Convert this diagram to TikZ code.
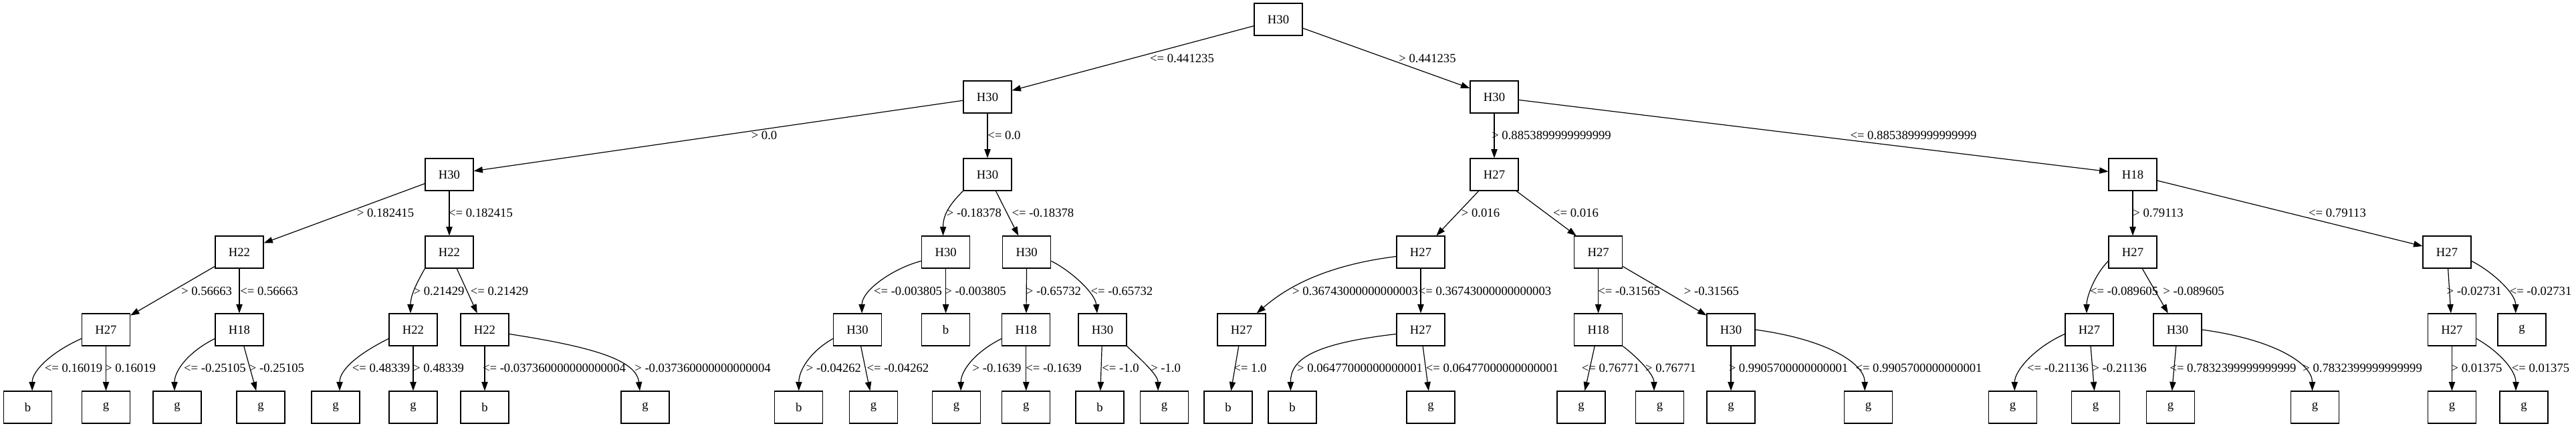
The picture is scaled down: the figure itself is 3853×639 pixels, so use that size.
\documentclass[tikz,border=0pt]{standalone}
\usepackage{fontspec}
\setmainfont{Liberation Serif}
\usepackage{tikz}
\usetikzlibrary{arrows.meta}
\tikzset{
  splitbox/.style={
    draw=black,
    line width=0.9pt,
    minimum width=54pt,
    minimum height=36pt,
    inner sep=0pt,
    font=\fontsize{14}{16}\selectfont
  },
  leafbox/.style={splitbox},
  branch/.style={-{Triangle[length=10pt,width=7pt]},line width=0.9pt,draw=black},
  cut/.style={inner sep=0pt,font=\fontsize{14}{16}\selectfont}
}
\begin{document}
\begin{tikzpicture}[x=0.75pt,y=-0.75pt]
  \path[use as bounding box,fill=white] (0,0) rectangle (3853,639);
  % split nodes
  \node[splitbox] (root) at (1912,29) {H30};
  \node[splitbox] (l) at (1477,145) {H30};
  \node[splitbox] (r) at (2235,145) {H30};
  \node[splitbox] (ll) at (672,261) {H30};
  \node[splitbox] (lr) at (1477,261) {H30};
  \node[splitbox] (rl) at (2235,261) {H27};
  \node[splitbox] (rr) at (3190,261) {H18};
  \node[splitbox] (lll) at (358,377) {H22};
  \node[splitbox] (llr) at (672,377) {H22};
  \node[splitbox] (lrl) at (1414.6,377) {H30};
  \node[splitbox] (lrr) at (1535.7,377) {H30};
  \node[splitbox] (rll) at (2125,377) {H27};
  \node[splitbox] (rlr) at (2390.6,377) {H27};
  \node[splitbox] (rrl) at (3190,377) {H27};
  \node[splitbox] (rrr) at (3660,377) {H27};
  \node[splitbox] (llll) at (158.5,493) {H27};
  \node[splitbox] (lllr) at (358,493) {H18};
  \node[splitbox] (llrl) at (618,493) {H22};
  \node[splitbox] (llrr) at (725,493) {H22};
  \node[splitbox] (lrll) at (1282.5,493) {H30};
  \node[leafbox] (lrlr) at (1414.6,493) {b};
  \node[splitbox] (lrrl) at (1534.8,493) {H18};
  \node[splitbox] (lrrr) at (1649,493) {H30};
  \node[splitbox] (rlll) at (1857,493) {H27};
  \node[splitbox] (rllr) at (2125,493) {H27};
  \node[splitbox] (rlrl) at (2390.6,493) {H18};
  \node[splitbox] (rlrr) at (2589,493) {H30};
  \node[splitbox] (rrll) at (3125,493) {H27};
  \node[splitbox] (rrlr) at (3257,493) {H30};
  \node[splitbox] (rrrl) at (3667.4,493) {H27};
  \node[leafbox] (rrrr) at (3772,493) {g};
  % leaves
  \node[leafbox] (lllll) at (41.5,609) {b};
  \node[leafbox] (llllr) at (158.5,609) {g};
  \node[leafbox] (lllrl) at (265,609) {g};
  \node[leafbox] (lllrr) at (390,609) {g};
  \node[leafbox] (llrll) at (502,609) {g};
  \node[leafbox] (llrlr) at (618,609) {g};
  \node[leafbox] (llrrl) at (725,609) {b};
  \node[leafbox] (llrrr) at (965,609) {g};
  \node[leafbox] (lrlll) at (1194.8,609) {b};
  \node[leafbox] (lrllr) at (1306.4,609) {g};
  \node[leafbox] (lrrll) at (1430.5,609) {g};
  \node[leafbox] (lrrlr) at (1534.8,609) {g};
  \node[leafbox] (lrrrl) at (1645,609) {b};
  \node[leafbox] (lrrrr) at (1741.4,609) {g};
  \node[leafbox] (rllll) at (1837,609) {b};
  \node[leafbox] (rllrl) at (1933,609) {b};
  \node[leafbox] (rllrr) at (2140,609) {g};
  \node[leafbox] (rlrll) at (2365,609) {g};
  \node[leafbox] (rlrlr) at (2482.5,609) {g};
  \node[leafbox] (rlrrl) at (2589,609) {g};
  \node[leafbox] (rlrrr) at (2794.5,609) {g};
  \node[leafbox] (rrlll) at (3010.6,609) {g};
  \node[leafbox] (rrllr) at (3134.6,609) {g};
  \node[leafbox] (rrlrl) at (3246.5,609) {g};
  \node[leafbox] (rrlrr) at (3462.5,609) {g};
  \node[leafbox] (rrrll) at (3667.4,609) {g};
  \node[leafbox] (rrrlr) at (3775,609) {g};
  % branches
  \draw[branch] (root) -- (l) node[cut] at (1768,87) {<= 0.441235};
  \draw[branch] (root) -- (r) node[cut] at (2135,87) {> 0.441235};
  \draw[branch] (l) -- (ll) node[cut] at (1143,202) {> 0.0};
  \draw[branch] (l) -- (lr) node[cut] at (1502,202) {<= 0.0};
  \draw[branch] (r) -- (rl) node[cut] at (2320.5,202) {> 0.8853899999999999};
  \draw[branch] (r) -- (rr) node[cut] at (2862,202) {<= 0.8853899999999999};
  \draw[branch] (ll) -- (lll) node[cut] at (576.5,318) {> 0.182415};
  \draw[branch] (ll) -- (llr) node[cut] at (719,318) {<= 0.182415};
  \draw[branch] (lr.south west) .. controls +(-22,22) and +(0,-30) .. ([xshift=-3pt]lrl.north) node[cut] at (1457,318) {> -0.18378};
  \draw[branch] (lr) -- (lrr) node[cut] at (1560,318) {<= -0.18378};
  \draw[branch] (rl) -- (rll) node[cut] at (2214.5,318) {> 0.016};
  \draw[branch] (rl) -- (rlr) node[cut] at (2357,318) {<= 0.016};
  \draw[branch] (rr) -- (rrl) node[cut] at (3228,318) {> 0.79113};
  \draw[branch] (rr) -- (rrr) node[cut] at (3496,318) {<= 0.79113};
  \draw[branch] (lll) -- (llll) node[cut] at (309,435) {> 0.56663};
  \draw[branch] (lll) -- (lllr) node[cut] at (402.5,435) {<= 0.56663};
  \draw[branch] (llr.south west) .. controls +(-10,18) and +(0,-28) .. ([xshift=-3pt]llrl.north) node[cut] at (656.5,435) {> 0.21429};
  \draw[branch] (llr) -- (llrr) node[cut] at (747,435) {<= 0.21429};
  \draw[branch] (lrl.200) .. controls +(-40,10) and +(0,-35) .. ([xshift=5pt]lrll.north) node[cut] at (1358,435) {<= -0.003805};
  \draw[branch] (lrl) -- (lrlr) node[cut] at (1459,435) {> -0.003805};
  \draw[branch] (lrr) -- (lrrl) node[cut] at (1576,435) {> -0.65732};
  \draw[branch] (lrr.340) .. controls +(30,15) and +(-3,-30) .. ([xshift=-6pt]lrrr.north) node[cut] at (1678,435) {<= -0.65732};
  \draw[branch] (rll.190) .. controls +(-120,15) and +(35,-30) .. ([xshift=17pt]rlll.north) node[cut] at (2027,435) {> 0.36743000000000003};
  \draw[branch] (rll) -- (rllr) node[cut] at (2221,435) {<= 0.36743000000000003};
  \draw[branch] (rlr) -- (rlrl) node[cut] at (2436.6,435) {<= -0.31565};
  \draw[branch] (rlr) -- (rlrr) node[cut] at (2560,435) {> -0.31565};
  \draw[branch] (rrl.200) .. controls +(-20,20) and +(0,-25) .. ([xshift=-3pt]rrll.north) node[cut] at (3177,435) {<= -0.089605};
  \draw[branch] (rrl) -- (rrlr) node[cut] at (3281,435) {> -0.089605};
  \draw[branch] (rrr) -- (rrrl) node[cut] at (3700.7,435) {> -0.02731};
  \draw[branch] (rrr.340) .. controls +(30,15) and +(0,-30) .. ([xshift=-7pt]rrrr.north) node[cut] at (3800,435) {<= -0.02731};
  \draw[branch] (llll.200) .. controls +(-45,20) and +(0,-30) .. ([xshift=5pt]lllll.north) node[cut] at (110,550) {<= 0.16019};
  \draw[branch] (llll) -- (llllr) node[cut] at (195,550) {> 0.16019};
  \draw[branch] (lllr.200) .. controls +(-40,20) and +(0,-30) .. ([xshift=-3pt]lllrl.north) node[cut] at (321.4,550) {<= -0.25105};
  \draw[branch] (lllr) -- (lllrr) node[cut] at (414,550) {> -0.25105};
  \draw[branch] (llrl.200) .. controls +(-50,25) and +(0,-30) .. ([xshift=4.5pt]llrll.north) node[cut] at (570,550) {<= 0.48339};
  \draw[branch] (llrl) -- (llrlr) node[cut] at (656,550) {> 0.48339};
  \draw[branch] (llrr) -- (llrrl) node[cut] at (829,550) {<= -0.037360000000000004};
  \draw[branch] (llrr.350) .. controls +(130,20) and +(-5,-45) .. ([xshift=-6pt]llrrr.north) node[cut] at (1051,550) {> -0.037360000000000004};
  \draw[branch] (lrll.200) .. controls +(-35,20) and +(0,-30) .. (lrlll.north) node[cut] at (1247,550) {> -0.04262};
  \draw[branch] (lrll) -- (lrllr) node[cut] at (1343,550) {<= -0.04262};
  \draw[branch] (lrrl.200) .. controls +(-40,20) and +(0,-30) .. ([xshift=5pt]lrrll.north) node[cut] at (1491,550) {> -0.1639};
  \draw[branch] (lrrl) -- (lrrlr) node[cut] at (1576,550) {<= -0.1639};
  \draw[branch] (lrrr) -- (lrrrl) node[cut] at (1676,550) {<= -1.0};
  \draw[branch] (lrrr.south east) .. controls +(15,15) and +(0,-25) .. ([xshift=-7pt]lrrrr.north) node[cut] at (1743.6,550) {> -1.0};
  \draw[branch] (rlll) -- (rllll) node[cut] at (1870,550) {<= 1.0};
  \draw[branch] (rllr.190) .. controls +(-130,15) and +(0,-45) .. ([xshift=-2pt]rllrl.north) node[cut] at (2034,550) {> 0.06477000000000001};
  \draw[branch] (rllr) -- (rllrr) node[cut] at (2232,550) {<= 0.06477000000000001};
  \draw[branch] (rlrl) -- (rlrll) node[cut] at (2409,550) {<= 0.76771};
  \draw[branch] (rlrl.south east) .. controls +(20,15) and +(0,-25) .. ([xshift=-6.4pt]rlrlr.north) node[cut] at (2499,550) {> 0.76771};
  \draw[branch] (rlrr) -- (rlrrl) node[cut] at (2675,550) {> 0.9905700000000001};
  \draw[branch] (rlrr.east) .. controls +(110,15) and +(0,-40) .. ([xshift=-4pt]rlrrr.north) node[cut] at (2870,550) {<= 0.9905700000000001};
  \draw[branch] (rrll.190) .. controls +(-45,20) and +(0,-30) .. ([xshift=2pt]rrlll.north) node[cut] at (3078,550) {<= -0.21136};
  \draw[branch] (rrll) -- (rrllr) node[cut] at (3170,550) {> -0.21136};
  \draw[branch] (rrlr) -- (rrlrl) node[cut] at (3340,550) {<= 0.7832399999999999};
  \draw[branch] (rrlr.east) .. controls +(110,15) and +(0,-40) .. ([xshift=-3pt]rrlrr.north) node[cut] at (3533.6,550) {> 0.7832399999999999};
  \draw[branch] (rrrl) -- (rrrll) node[cut] at (3704.5,550) {> 0.01375};
  \draw[branch] (rrrl.340) .. controls +(35,20) and +(0,-30) .. ([xshift=-9pt]rrrlr.north) node[cut] at (3800,550) {<= 0.01375};
\end{tikzpicture}
\end{document}
